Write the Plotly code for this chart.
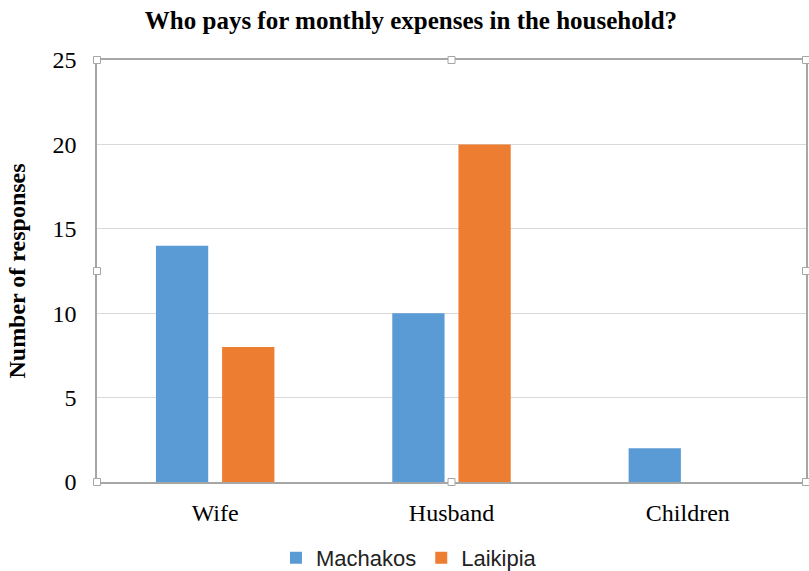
import plotly.graph_objects as go

categories = ["Wife", "Husband", "Children"]
machakos = [14, 10, 2]
laikipia = [8, 20, 0]
y_ticks = [0, 5, 10, 15, 20, 25]

serif = "Liberation Serif, Times New Roman, serif"

fig = go.Figure()
fig.add_trace(go.Bar(name="Machakos", x=categories, y=machakos, marker_color="#5B9BD5",
                     marker_line_width=0))
fig.add_trace(go.Bar(name="Laikipia", x=categories, y=laikipia, marker_color="#ED7D31",
                     marker_line_width=0))

fig.update_layout(
    width=809, height=571,
    margin=dict(l=97, r=3, t=60, b=89, autoexpand=False),
    paper_bgcolor="white", plot_bgcolor="white",
    barmode="group", bargap=0.44, bargroupgap=0.21,
    title=dict(text="<b>Who pays for monthly expenses in the household?</b>",
               x=0.508, xanchor="center", y=0.965, yanchor="middle",
               font=dict(family=serif, size=25, color="#000000")),
    legend=dict(orientation="h", x=0.44, xanchor="center", y=-0.18, yanchor="middle",
                font=dict(family="Liberation Sans, Arial, sans-serif", size=22, color="#222222"),
                itemwidth=30, traceorder="normal"),
    showlegend=True,
)
fig.update_yaxes(range=[0, 25], tickvals=y_ticks, showgrid=True, gridcolor="#D9D9D9",
                 showline=True, linecolor="#A6A6A6", linewidth=1.5, mirror=True,
                 zeroline=False, ticks="", ticklabelstandoff=14, automargin=False,
                 tickfont=dict(family=serif, size=24, color="#000000"),
                 title=dict(text="<b>Number of responses</b>", standoff=20,
                            font=dict(family=serif, size=24, color="#000000")))
fig.update_xaxes(showline=True, linecolor="#A6A6A6", linewidth=1.5, mirror=True,
                 ticks="", ticklabelstandoff=8, automargin=False,
                 tickfont=dict(family=serif, size=24, color="#000000"))

handles = [(0, 0), (0.5, 0), (1, 0), (0, 0.5), (1, 0.5), (0, 1), (0.5, 1), (1, 1)]
for hx, hy in handles:
    fig.add_shape(type="rect", xref="paper", yref="paper",
                  xsizemode="pixel", ysizemode="pixel", xanchor=hx, yanchor=hy,
                  x0=-3.5, x1=3.5, y0=-3.5, y1=3.5,
                  line=dict(color="#A6A6A6", width=1), fillcolor="white")

fig.write_html("out.html", config={"displayModeBar": False},
               post_script="document.body.style.margin='0';document.body.style.overflow='hidden';")
